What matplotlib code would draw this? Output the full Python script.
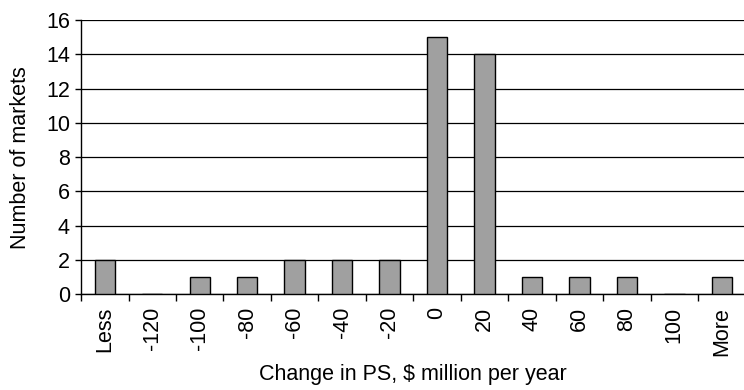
import numpy as np
import matplotlib.pyplot as plt

# histogram of change in producer surplus across markets
bins = ['Less', '-120', '-100', '-80', '-60', '-40', '-20', '0', '20',
        '40', '60', '80', '100', 'More']
counts = [2, 0, 1, 1, 2, 2, 2, 15, 14, 1, 1, 1, 0, 1]

plt.rcParams['font.family'] = ['Liberation Sans', 'DejaVu Sans']
fs = 15.5

fig = plt.figure(figsize=(7.44, 3.9), dpi=100)
ax = fig.add_axes([0.109, 0.245, 0.893, 0.704])

x = np.arange(len(bins))
ax.bar(x, counts, width=0.43, color='#a0a0a0', edgecolor='black',
       linewidth=1.0, zorder=3)

ax.set_xlim(-0.5, len(bins) - 0.5)
ax.set_ylim(0, 16)
ax.set_yticks(np.arange(0, 17, 2))
ax.yaxis.grid(True, color='black', linewidth=0.9, zorder=0)

# labels at bar centres, tick marks between categories
ax.set_xticks(x)
ax.set_xticklabels(bins, rotation=90, fontsize=fs)
ax.tick_params(axis='x', which='major', length=0, pad=9)
ax.set_xticks(np.arange(-0.5, len(bins), 1), minor=True)
ax.tick_params(axis='x', which='minor', length=5, width=1, color='black')
ax.tick_params(axis='y', length=4, width=1, labelsize=fs, pad=4)

for side in ['top', 'right']:
    ax.spines[side].set_visible(False)
ax.spines['left'].set_linewidth(1)
ax.spines['bottom'].set_linewidth(1)

ax.set_ylabel('Number of markets', fontsize=fs, labelpad=11)
ax.set_xlabel('Change in PS, $ million per year', fontsize=fs, labelpad=6)

fig.savefig('out.png', dpi=100)
